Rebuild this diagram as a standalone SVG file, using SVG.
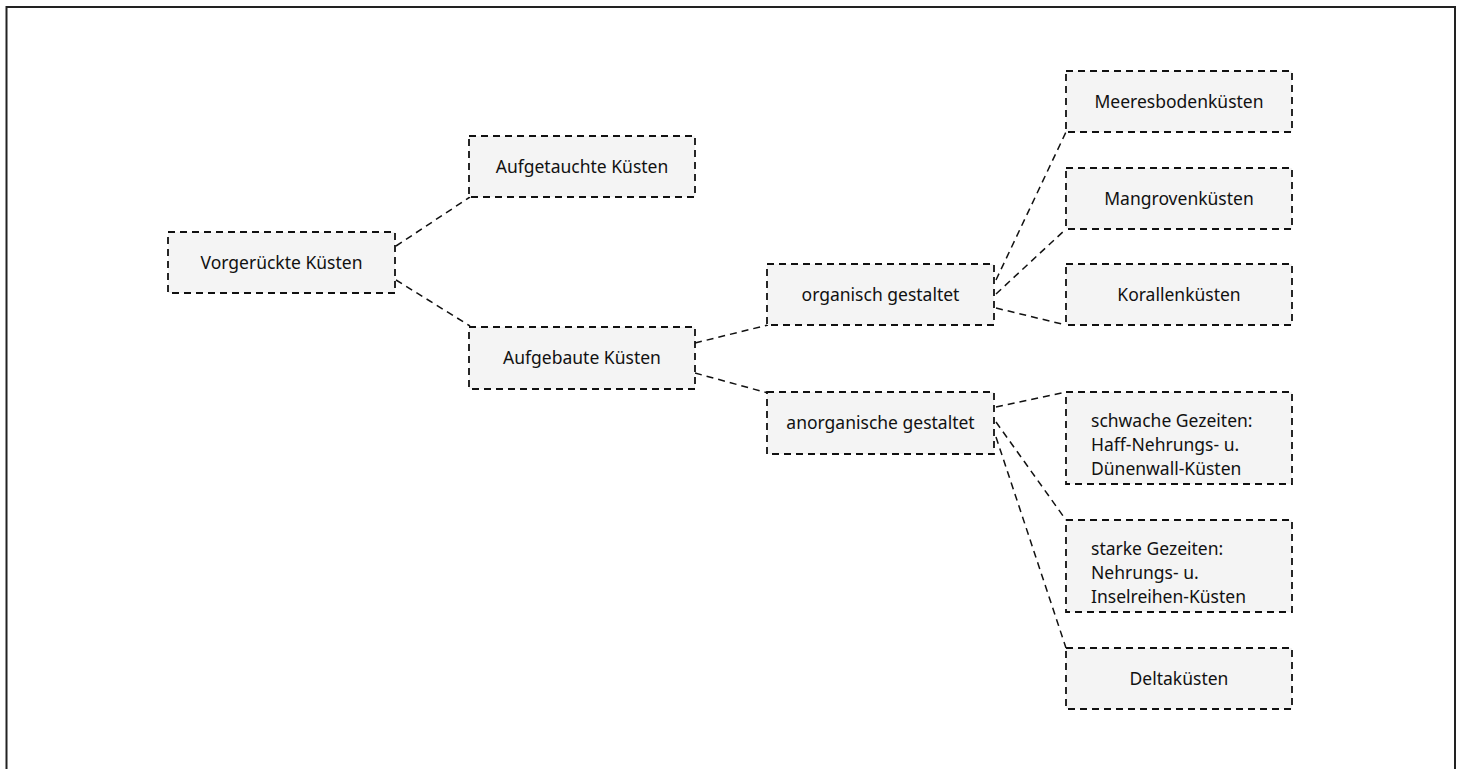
<svg xmlns="http://www.w3.org/2000/svg" width="1462" height="769" viewBox="0 0 1462 769">
<style>
.box{fill:#f4f4f4;stroke:#111;stroke-width:1.8;stroke-dasharray:7,5}
.c{fill:none;stroke:#111;stroke-width:1.5;stroke-dasharray:7,5}
text{font-family:"Noto Sans","Open Sans",sans-serif;font-size:17.5px;fill:#111}
.m{text-anchor:middle}
</style>
<rect width="1462" height="769" fill="#fff"/>
<path d="M6.5 769V7H1455V769" fill="none" stroke="#222" stroke-width="2"/>
<g id="connectors">
<line class="c" x1="396" y1="246" x2="470" y2="197"/>
<line class="c" x1="396" y1="280" x2="470" y2="326"/>
<line class="c" x1="695" y1="343" x2="768" y2="325"/>
<line class="c" x1="695" y1="373" x2="768" y2="393"/>
<line class="c" x1="996" y1="280" x2="1066" y2="132"/>
<line class="c" x1="996" y1="294" x2="1066" y2="229"/>
<line class="c" x1="996" y1="308" x2="1066" y2="325"/>
<line class="c" x1="996" y1="407" x2="1066" y2="392"/>
<line class="c" x1="996" y1="422" x2="1066" y2="520"/>
<line class="c" x1="996" y1="437" x2="1066" y2="648"/>
</g>
<g id="n1"><rect class="box" x="168" y="232" width="227" height="61"/><text class="m" x="281.5" y="269">Vorgerückte Küsten</text></g>
<g id="n2"><rect class="box" x="469" y="136" width="226" height="61"/><text class="m" x="582" y="173">Aufgetauchte Küsten</text></g>
<g id="n3"><rect class="box" x="469" y="327" width="226" height="62"/><text class="m" x="582" y="364">Aufgebaute Küsten</text></g>
<g id="n4"><rect class="box" x="767" y="264" width="227" height="61"/><text class="m" x="880.5" y="301">organisch gestaltet</text></g>
<g id="n5"><rect class="box" x="767" y="392" width="227" height="62"/><text class="m" x="880.5" y="429">anorganische gestaltet</text></g>
<g id="n6"><rect class="box" x="1066" y="71" width="226" height="61"/><text class="m" x="1179" y="108">Meeresbodenküsten</text></g>
<g id="n7"><rect class="box" x="1066" y="168" width="226" height="61"/><text class="m" x="1179" y="205">Mangrovenküsten</text></g>
<g id="n8"><rect class="box" x="1066" y="264" width="226" height="61"/><text class="m" x="1179" y="301">Korallenküsten</text></g>
<g id="n9"><rect class="box" x="1066" y="392" width="226" height="92"/><text x="1091" y="427">schwache Gezeiten:</text><text x="1091" y="451">Haff-Nehrungs- u.</text><text x="1091" y="475">Dünenwall-Küsten</text></g>
<g id="n10"><rect class="box" x="1066" y="520" width="226" height="92"/><text x="1091" y="555">starke Gezeiten:</text><text x="1091" y="579">Nehrungs- u.</text><text x="1091" y="603">Inselreihen-Küsten</text></g>
<g id="n11"><rect class="box" x="1066" y="648" width="226" height="61"/><text class="m" x="1179" y="685">Deltaküsten</text></g>
</svg>
